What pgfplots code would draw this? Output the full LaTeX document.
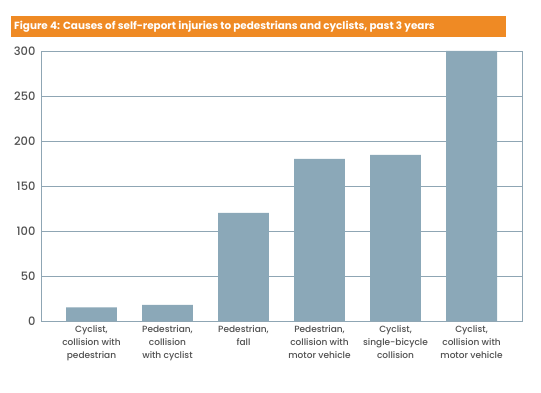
\documentclass[border=0pt]{standalone}
\usepackage{fontspec}
\setmainfont{Poppins}
\newfontfamily\med{Poppins Medium}
\usepackage{pgfplots}
\pgfplotsset{compat=1.18}
\definecolor{barc}{HTML}{8BA8B8}
\definecolor{gridc}{HTML}{8FA6B4}
\definecolor{orangec}{HTML}{EF8A24}
\definecolor{txtc}{HTML}{505050}
\begin{document}
\begin{tikzpicture}
\useasboundingbox[fill=white] (0,0) rectangle (541bp,393bp);
\fill[orangec] (11bp,356bp) rectangle (506bp,377bp);
\node[anchor=west, text=white, font=\fontsize{10.4bp}{12bp}\selectfont\bfseries, inner sep=0pt] at (14bp,366.5bp) {Figure 4: Causes of self-report injuries to pedestrians and cyclists, past 3 years};
\begin{axis}[
  at={(41bp,72bp)}, anchor=south west,
  scale only axis, width=481bp, height=270bp,
  ymin=0, ymax=300, ytick={0,50,...,300},
  xmin=-0.664, xmax=5.664,
  xtick={0,...,5},
  xticklabels={{Cyclist,\\collision with\\pedestrian},{Pedestrian,\\collision\\with cyclist},{Pedestrian,\\fall},{Pedestrian,\\collision with\\motor vehicle},{Cyclist,\\single-bicycle\\collision},{Cyclist,\\collision with\\motor vehicle}},
  xticklabel style={align=center, font=\med\fontsize{9bp}{13bp}\selectfont, text=txtc, yshift=-1bp},
  yticklabel style={font=\med\fontsize{11.5bp}{13bp}\selectfont, text=txtc, xshift=-2bp},
  /pgf/number format/assume math mode=true,
  major tick length=0pt,
  ymajorgrids, grid style={gridc, line width=0.8pt},
  axis line style={gridc, line width=0.8pt},
  ybar, bar width=0.67, bar shift=0pt,
]
\addplot[fill=barc, draw=none] coordinates {(0,15) (1,18) (2,120) (3,180) (4,184.5) (5,300)};
\end{axis}
\end{tikzpicture}
\end{document}
